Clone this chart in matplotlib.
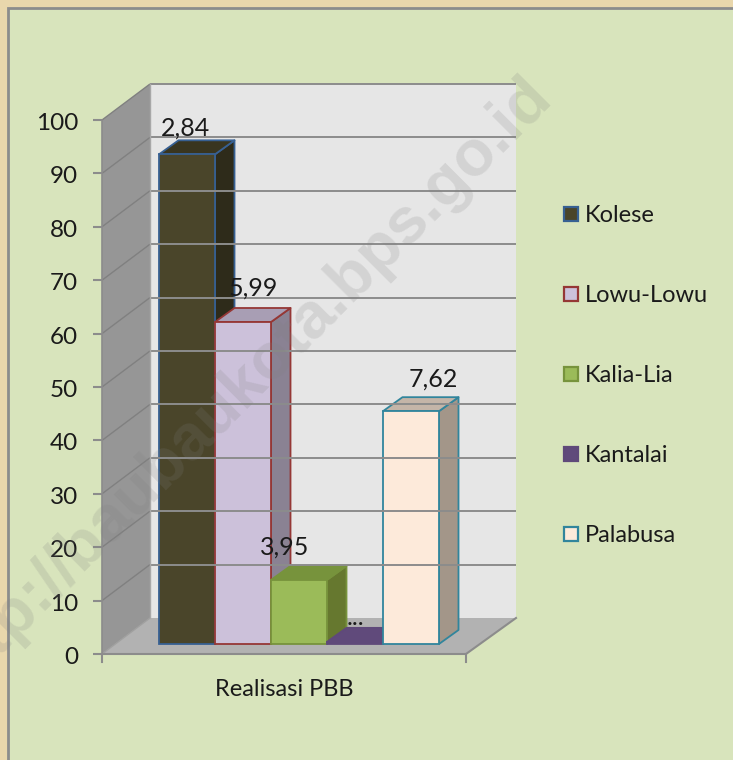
import matplotlib
matplotlib.use("Agg")
import matplotlib.pyplot as plt
from matplotlib.patches import Polygon, Rectangle

plt.rcParams['font.family'] = ['Lato', 'DejaVu Sans']

# data
series = ["Kolese", "Lowu-Lowu", "Kalia-Lia", "Kantalai", "Palabusa"]
values = [91.7, 60.3, 12.0, 0.4, 43.6]
labels = ["2,84", "5,99", "3,95", "...", "7,62"]
category = "Realisasi PBB"
yticks = [0, 10, 20, 30, 40, 50, 60, 70, 80, 90, 100]

front_cols = ["#4A452A", "#CCC1DA", "#9BBB59", "#604A7B", "#FDEADA"]
side_cols = ["#2E2B1A", "#8A8293", "#66782F", "#4A3760", "#A39689"]
top_cols = ["#39351F", "#A89EB4", "#77933C", "#604A7B", "#C4B5A8"]
edge_cols = ["#376092", "#953735", "#77933C", "#5F497A", "#31859C"]
label_dx = [-1, 10, -14, 0, 22]
label_dy = [27, 35, 34, 25, 33]

W, H = 733, 760
scale = 5.34      # px per unit
y0_px = 654

fig = plt.figure(figsize=(W / 100, H / 100), dpi=100, facecolor="#E9D7AC")

# layout axes in pixels: panel and legend
bg = fig.add_axes([0, 0, 1, 1], zorder=0)
bg.set_xlim(0, W)
bg.set_ylim(H, 0)
bg.axis("off")
bg.add_patch(Rectangle((8, 8), W, H, fc="#D8E4BC", ec="#8C8C8C", lw=2))

# value axes: x in px, y in chart units
ax = fig.add_axes([0, 0, 1, 1], zorder=1)
ax.set_xlim(0, W)
ax.set_ylim((y0_px - H) / scale, y0_px / scale)
ax.axis("off")
ax.patch.set_alpha(0)

grid_col = "#8C8C8C"
dx, dy = 48, 36 / scale
right = 466
back_right = 516

ax.add_patch(Polygon([(102 + dx, dy), (back_right, dy), (back_right, 100 + dy), (102 + dx, 100 + dy)],
                     fc="#E6E6E6", ec="none"))
ax.add_patch(Polygon([(102, 0), (102 + dx, dy), (102 + dx, 100 + dy), (102, 100)],
                     fc="#969696", ec="none"))
ax.add_patch(Polygon([(102, 0), (102 + dx, dy), (back_right, dy), (right, 0)],
                     fc="#B2B2B2", ec="none"))

for t in yticks:
    if t > 0:
        ax.plot([102, 102 + dx], [t, t + dy], color="#808080", lw=1, solid_capstyle="butt")
        ax.plot([102 + dx, back_right], [t + dy, t + dy], color=grid_col, lw=1.4, solid_capstyle="butt")
    ax.plot([93, 102], [t, t], color=grid_col, lw=1.5, solid_capstyle="butt")
    ax.text(78, t - 3.5 / scale, str(t), ha="right", va="center", fontsize=17.5, color="#1A1A1A")

ax.plot([102, 102 + dx], [0, dy], color="#A0A0A0", lw=1)
ax.plot([102 + dx, 102 + dx], [dy, 100 + dy], color="#A8A8A8", lw=1)
ax.plot([102, right, back_right], [0, 0, dy], color=grid_col, lw=1.5)
ax.plot([102, 102], [0, 100], color=grid_col, lw=1.2)
ax.plot([102, 102], [0, -8 / scale], color=grid_col, lw=1.5)
ax.plot([right, right], [0, -8 / scale], color=grid_col, lw=1.5)

# bars
bar_left = 159
bar_w = 56
base = 10 / scale
sx, sy = 19.5, 14 / scale
for i, v in enumerate(values):
    x1 = bar_left + i * bar_w
    x2 = x1 + bar_w
    top = base + v
    e = edge_cols[i]
    ax.add_patch(Polygon([(x2, base), (x2 + sx, base + sy), (x2 + sx, top + sy), (x2, top)],
                         fc=side_cols[i], ec=e, lw=1.3, joinstyle="round"))
    ax.add_patch(Polygon([(x1, top), (x1 + sx, top + sy), (x2 + sx, top + sy), (x2, top)],
                         fc=top_cols[i], ec=e, lw=1.3, joinstyle="round"))
    ax.add_patch(Rectangle((x1, base), bar_w, v, fc=front_cols[i], ec=e, lw=1.3))

for i, v in enumerate(values):
    xc = bar_left + (i + 0.5) * bar_w + label_dx[i]
    ax.text(xc, base + v + (label_dy[i] - 1) / scale, labels[i], ha="center", va="center",
            fontsize=18, color="#1A1A1A", zorder=8)

ax.text(284, -36 / scale, category, ha="center", va="center", fontsize=17, color="#1A1A1A")

# legend
for i, name in enumerate(series):
    yc = 214 + i * 80
    bg.add_patch(Rectangle((564, yc - 7), 14, 14, fc=front_cols[i], ec=edge_cols[i], lw=1.6))
    bg.text(585, yc + 1, name, ha="left", va="center", fontsize=17, color="#1A1A1A")

# watermark
fig.text(553 / W, 1 - 99 / H, "http://baubaukota.bps.go.id", rotation=45, rotation_mode="anchor",
         ha="right", va="baseline", fontsize=46.5, fontweight="bold", family="Liberation Sans",
         color="#808080", alpha=0.19, zorder=10)

fig.savefig("out.png", dpi=100)
